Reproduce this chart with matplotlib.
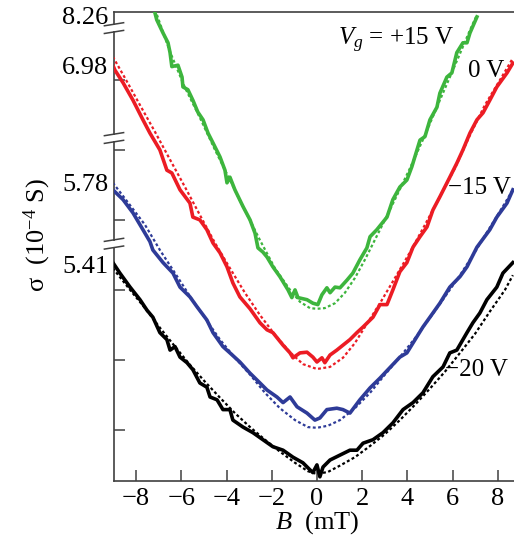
import matplotlib
matplotlib.use("Agg")
import matplotlib.pyplot as plt
import matplotlib.transforms as mtransforms

# --- data: B (mT) vs sigma (offset, arbitrary units per tick) ---
b_green = [-7.17, -7.09, -6.81, -6.59, -6.50, -6.42, -6.15, -5.97, -5.93, -5.71, -5.49, -5.27,
           -5.04, -4.82, -4.60, -4.29, -4.07, -3.98, -3.85, -3.63, -3.27, -2.96, -2.74, -2.61,
           -2.39, -2.21, -1.95, -1.64, -1.28, -1.11, -0.97, -0.84, -0.44, -0.18, 0.04, 0.22,
           0.44, 0.58, 0.80, 1.02, 1.33, 1.59, 1.90, 2.21, 2.35, 2.65, 3.10, 3.36, 3.67, 3.98,
           4.20, 4.56, 4.78, 5.00, 5.31, 5.44, 5.75, 5.97, 6.19, 6.46, 6.64, 6.77, 7.08]
s_green = [6.96, 6.86, 6.67, 6.53, 6.39, 6.19, 6.21, 6.04, 5.90, 5.86, 5.71, 5.54,
           5.43, 5.24, 5.10, 4.90, 4.71, 4.53, 4.61, 4.43, 4.19, 4.00, 3.81, 3.60,
           3.54, 3.47, 3.33, 3.19, 3.00, 2.89, 3.00, 2.89, 2.86, 2.81, 2.79, 2.93,
           3.03, 2.96, 3.04, 3.03, 3.14, 3.24, 3.43, 3.60, 3.76, 3.86, 4.04, 4.29, 4.47, 4.57,
           4.76, 5.14, 5.19, 5.43, 5.61, 5.81, 6.04, 6.10, 6.39, 6.53, 6.53, 6.67, 6.90]
b_green_fit = [-7.08, -6.50, -5.84, -5.18, -4.51, -3.85, -3.19, -2.52, -1.86, -1.19, -0.75, -0.31,
               0.0, 0.35, 0.80, 1.24, 1.68, 2.12, 2.79, 3.45, 4.12, 4.78, 5.44, 6.11, 6.77, 7.08]
s_green_fit = [6.93, 6.40, 5.89, 5.46, 5.00, 4.57, 4.14, 3.71, 3.31, 3.00, 2.83, 2.74,
               2.73, 2.74, 2.81, 2.96, 3.17, 3.43, 3.86, 4.29, 4.74, 5.21, 5.71, 6.21, 6.71, 6.93]

b_red = [-9.03, -8.94, -8.58, -8.14, -7.70, -7.39, -6.95, -6.64, -6.42, -6.06, -5.62, -5.49,
         -5.18, -4.87, -4.60, -4.29, -3.98, -3.72, -3.41, -2.96, -2.52, -2.21, -1.95, -1.50,
         -1.19, -1.06, -0.75, -0.44, -0.18, 0.0, 0.22, 0.35, 0.58, 0.88, 1.15, 1.46, 1.77,
         2.04, 2.48, 2.79, 3.10, 3.36, 3.67, 3.98, 4.25, 4.56, 4.87, 5.13, 5.44, 5.88, 6.19,
         6.46, 6.77, 7.08, 7.35, 7.65, 7.96, 8.41, 8.67]
s_red = [6.21, 6.14, 5.96, 5.71, 5.43, 5.24, 5.00, 4.71, 4.67, 4.43, 4.24, 4.04,
         4.00, 3.86, 3.67, 3.53, 3.33, 3.10, 2.90, 2.73, 2.53, 2.43, 2.39, 2.21,
         2.10, 2.03, 2.10, 2.11, 2.04, 1.97, 2.03, 1.96, 2.07, 2.14, 2.21, 2.29, 2.39,
         2.47, 2.61, 2.79, 2.79, 3.00, 3.26, 3.39, 3.61, 3.76, 3.90, 4.14, 4.33, 4.61, 4.81,
         5.00, 5.24, 5.43, 5.53, 5.71, 5.90, 6.10, 6.24]
b_red_fit = [-9.03, -8.50, -7.83, -7.17, -6.50, -5.84, -5.18, -4.51, -3.85, -3.19, -2.52, -1.86,
             -1.19, -0.62, 0.0, 0.58, 1.15, 1.68, 2.12, 2.79, 3.45, 4.12, 4.78, 5.44, 6.11,
             6.77, 7.43, 8.10, 8.67]
s_red_fit = [6.33, 6.03, 5.64, 5.26, 4.86, 4.47, 4.07, 3.67, 3.31, 2.96, 2.64, 2.36,
             2.11, 1.94, 1.87, 1.90, 2.03, 2.24, 2.47, 2.81, 3.17, 3.54, 3.93, 4.33, 4.74,
             5.21, 5.64, 6.00, 6.31]

b_blue = [-9.03, -8.58, -8.14, -7.70, -7.39, -7.26, -6.81, -6.37, -6.06, -5.62, -5.31, -4.87,
          -4.60, -4.16, -3.85, -3.41, -2.96, -2.52, -2.21, -1.77, -1.50, -1.19, -0.88, -0.44,
          -0.09, 0.13, 0.44, 0.88, 1.15, 1.46, 1.90, 2.35, 2.79, 3.23, 3.67, 3.98, 4.42, 4.69,
          5.00, 5.44, 5.88, 6.33, 6.64, 7.08, 7.65, 7.96, 8.41, 8.67]
s_blue = [4.43, 4.29, 4.10, 3.86, 3.69, 3.57, 3.39, 3.24, 3.04, 2.90, 2.76, 2.57,
          2.39, 2.19, 2.10, 1.97, 1.81, 1.67, 1.57, 1.47, 1.39, 1.47, 1.33, 1.24,
          1.14, 1.17, 1.29, 1.31, 1.29, 1.24, 1.43, 1.60, 1.74, 1.89, 2.04, 2.10, 2.33, 2.47,
          2.61, 2.81, 3.04, 3.19, 3.33, 3.61, 3.86, 4.04, 4.24, 4.43]
b_blue_fit = [-9.03, -8.27, -7.61, -6.95, -6.28, -5.62, -4.96, -4.29, -3.63, -2.96, -2.30, -1.64,
              -0.97, -0.40, 0.0, 0.49, 1.02, 1.68, 2.35, 3.01, 3.67, 4.34, 5.00, 5.66, 6.33,
              6.99, 7.65, 8.32, 8.67]
s_blue_fit = [4.53, 4.21, 3.93, 3.57, 3.24, 2.91, 2.60, 2.29, 2.03, 1.79, 1.53, 1.31,
              1.14, 1.04, 1.03, 1.06, 1.14, 1.31, 1.53, 1.79, 2.04, 2.31, 2.60, 2.90, 3.21,
              3.54, 3.89, 4.24, 4.43]

b_black = [-9.03, -8.72, -8.27, -7.83, -7.52, -7.26, -6.95, -6.64, -6.50, -6.28, -6.06, -5.75,
           -5.49, -5.18, -4.87, -4.73, -4.42, -4.16, -3.85, -3.72, -3.27, -2.83, -2.39, -1.95,
           -1.50, -1.06, -0.62, -0.31, -0.18, 0.0, 0.13, 0.27, 0.58, 1.02, 1.46, 1.77, 2.04,
           2.48, 2.92, 3.36, 3.81, 4.25, 4.69, 5.13, 5.58, 5.88, 6.19, 6.64, 6.90, 7.21, 7.52,
           7.96, 8.23, 8.67]
s_black = [3.39, 3.24, 3.04, 2.86, 2.71, 2.61, 2.39, 2.29, 2.14, 2.19, 2.04, 1.96,
           1.86, 1.67, 1.61, 1.47, 1.43, 1.29, 1.29, 1.14, 1.04, 0.96, 0.86, 0.76,
           0.71, 0.61, 0.53, 0.43, 0.39, 0.50, 0.33, 0.47, 0.57, 0.64, 0.71, 0.71, 0.81,
           0.86, 0.96, 1.10, 1.29, 1.39, 1.53, 1.76, 1.90, 2.10, 2.14, 2.39, 2.53, 2.67, 2.86,
           3.04, 3.24, 3.39]
b_black_fit = [-9.03, -8.27, -7.61, -6.95, -6.28, -5.62, -4.96, -4.29, -3.63, -2.96, -2.30, -1.64,
               -0.97, -0.40, 0.0, 0.49, 1.02, 1.68, 2.35, 3.01, 3.67, 4.34, 5.00, 5.66, 6.33,
               6.99, 7.65, 8.32, 8.67]
s_black_fit = [3.31, 3.00, 2.74, 2.46, 2.19, 1.93, 1.69, 1.46, 1.24, 1.04, 0.86, 0.69,
               0.53, 0.41, 0.37, 0.40, 0.49, 0.61, 0.77, 0.94, 1.14, 1.36, 1.59, 1.83, 2.10,
               2.37, 2.69, 3.00, 3.21]

# labels of sigma at the left end of each trace, and where they sit
sigma_labels = ["8.26", "6.98", "5.78", "5.41"]
sigma_label_pos = [6.89, 6.17, 4.50, 3.33]
break_pos = [6.74, 5.17, 3.66]
x_ticks = [-8, -6, -4, -2, 0, 2, 4, 6, 8]
y_ticks = [1, 2, 3, 4, 5, 6]

# --- style ---
plt.rcParams['font.family'] = ['Liberation Serif', 'DejaVu Serif']
plt.rcParams['mathtext.fontset'] = 'custom'
plt.rcParams['mathtext.rm'] = 'Liberation Serif'
plt.rcParams['mathtext.it'] = 'Liberation Serif:italic'
plt.rcParams['mathtext.bf'] = 'Liberation Serif:bold'

c_green = "#3db53d"
c_red = "#ec1c24"
c_blue = "#2e3b98"
c_black = "#000000"
axis_col = "#404040"
fs = 19
fs_ann = 18

fig = plt.figure(figsize=(5.14, 5.42), dpi=100)
ax = fig.add_axes([114 / 514, 61 / 542, 400 / 514, 469 / 542])

for b, s, b_fit, s_fit, col in [
    (b_green, s_green, b_green_fit, s_green_fit, c_green),
    (b_red, s_red, b_red_fit, s_red_fit, c_red),
    (b_blue, s_blue, b_blue_fit, s_blue_fit, c_blue),
    (b_black, s_black, b_black_fit, s_black_fit, c_black),
]:
    ax.plot(b, s, color=col, lw=2.6, solid_joinstyle="round", zorder=3)
    ax.plot(b_fit, s_fit, color=col, lw=1.6, linestyle=(0, (1.3, 1.1)), zorder=4)

ax.set_xlim(-8.98, 8.72)
ax.set_ylim(0.27, 6.97)

ax.spines['right'].set_visible(False)
for sp in ['left', 'bottom', 'top']:
    ax.spines[sp].set_color(axis_col)
    ax.spines[sp].set_linewidth(1.2)

ax.set_xticks(x_ticks)
ax.set_yticks(y_ticks)
ax.set_yticklabels([])
ax.tick_params(axis='both', direction='in', length=8, width=1.1, color=axis_col)
ax.tick_params(axis='x', labelsize=fs, pad=5)

# sigma values at the left
trans = mtransforms.blended_transform_factory(ax.transAxes, ax.transData)
for lab, yv in zip(sigma_labels, sigma_label_pos):
    ax.text(-0.014, yv, lab, transform=trans, ha='right', va='center', fontsize=fs)

# axis breaks
for yb in break_pos:
    ax.fill_between([-0.01, 0.01], yb - 0.04, yb + 0.04, transform=trans,
                    color='white', clip_on=False, zorder=5, lw=0)
    for dy in (-0.055, 0.055):
        ax.plot([-0.024, 0.024], [yb + dy - 0.022, yb + dy + 0.022], transform=trans,
                color=axis_col, lw=1.1, clip_on=False, zorder=6)

# gate voltage labels
fig.text(454 / 514, 1 - 40 / 542, "$V_g$ = +15 V", ha='right', va='center', fontsize=fs_ann)
fig.text(504 / 514, 1 - 71 / 542, "0 V", ha='right', va='center', fontsize=fs_ann)
fig.text(511 / 514, 1 - 188 / 542, "\u221215 V", ha='right', va='center', fontsize=fs_ann)
fig.text(508 / 514, 1 - 370 / 542, "\u221220 V", ha='right', va='center', fontsize=fs_ann)

fig.text(37 / 514, 1 - 235 / 542, "\u03c3  (10$^{\u22124}$ S)", rotation=90,
         ha='center', va='center', fontsize=fs)
fig.text(317 / 514, 1 - 523 / 542, "$B$  (mT)", ha='center', va='center', fontsize=fs)

fig.savefig("out.png", dpi=100)
